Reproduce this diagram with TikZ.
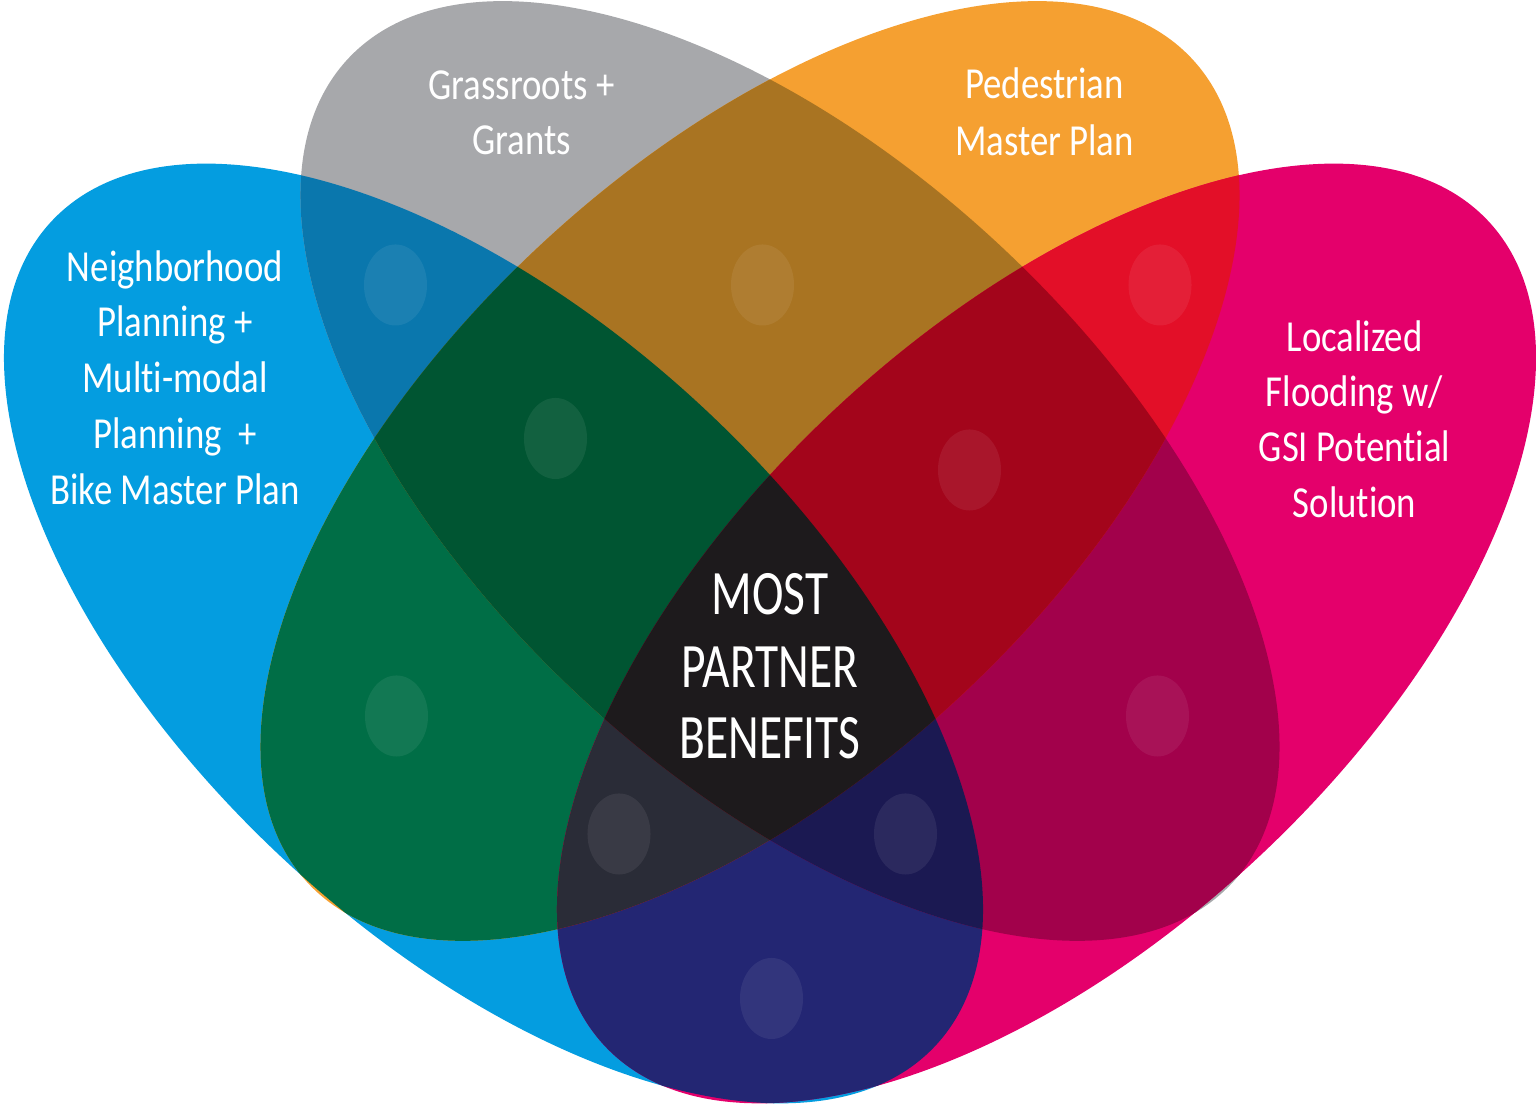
\documentclass[tikz,border=0pt]{standalone}
\usepackage{fontspec}
\newfontfamily\lblfont[FakeStretch=0.83, Ligatures={NoCommon}]{Carlito}
\newfontfamily\ctrfont[FakeStretch=0.75, Ligatures={NoCommon}]{Carlito}

% single sets
\definecolor{cBlue}{HTML}{049DE0}
\definecolor{cGray}{HTML}{A7A8AB}
\definecolor{cOrange}{HTML}{F5A031}
\definecolor{cPink}{HTML}{E4006B}
% pairs
\definecolor{cBG}{HTML}{0A77AD}
\definecolor{cGO}{HTML}{A97422}
\definecolor{cOP}{HTML}{E30F28}
\definecolor{cBO}{HTML}{006E46}
\definecolor{cGP}{HTML}{A2014B}
\definecolor{cBP}{HTML}{232673}
% triples
\definecolor{cBGO}{HTML}{005532}
\definecolor{cGOP}{HTML}{A3051B}
\definecolor{cBGP}{HTML}{1B1952}
\definecolor{cBOP}{HTML}{2A2C37}
% all four
\definecolor{cAll}{HTML}{1D1A1C}

% the four congruent ellipses
\newcommand\shB{(493.5,470.5) ellipse [x radius=6.04cm, y radius=3.08cm, rotate=-43]}
\newcommand\shG{(790,633) ellipse [x radius=6.04cm, y radius=3.08cm, rotate=-43]}
\newcommand\shO{(750,633) ellipse [x radius=6.04cm, y radius=3.08cm, rotate=43]}
\newcommand\shP{(1046.5,470.5) ellipse [x radius=6.04cm, y radius=3.08cm, rotate=43]}

\tikzset{
  lbl/.style={text=white, anchor=base, inner sep=0pt, font=\lblfont\fontsize{12.6}{15}\selectfont},
  ctr/.style={text=white, anchor=base, inner sep=0pt, font=\ctrfont\fontsize{18}{21}\selectfont},
  spot/.style={fill=white, fill opacity=0.07},
}

\begin{document}
\begin{tikzpicture}[x=0.01cm, y=0.01cm]
\useasboundingbox (0,0) rectangle (1536,1104);

% single regions
\fill[cBlue] \shB;
\fill[cGray] \shG;
\fill[cOrange] \shO;
\fill[cPink] \shP;

% pairwise overlaps
\begin{scope}
  \clip \shB;
  \fill[cBG] \shG;
  \fill[cBO] \shO;
  \fill[cBP] \shP;
\end{scope}
\begin{scope}
  \clip \shG;
  \fill[cGO] \shO;
  \fill[cGP] \shP;
\end{scope}
\begin{scope}
  \clip \shO;
  \fill[cOP] \shP;
\end{scope}

% triple overlaps
\begin{scope}
  \clip \shB; \clip \shG;
  \fill[cBGO] \shO;
  \fill[cBGP] \shP;
\end{scope}
\begin{scope}
  \clip \shB; \clip \shO;
  \fill[cBOP] \shP;
\end{scope}
\begin{scope}
  \clip \shG; \clip \shO;
  \fill[cGOP] \shP;
\end{scope}

% centre, all four
\begin{scope}
  \clip \shB; \clip \shG; \clip \shO;
  \fill[cAll] \shP;
\end{scope}

% light spots
\foreach \px/\py in {395.5/819, 762.5/819, 1160/819, 555.5/665.5, 969.5/634,
                     396.5/388, 1157.5/388, 619/270, 905.5/270, 771.5/105.5}
  \fill[spot] (\px,\py) ellipse [x radius=0.315cm, y radius=0.405cm];

% labels
\node[lbl] (nb1) at (175,822) {Neighborhood};
\node[lbl] (nb2) at (175,767) {Planning +};
\node[lbl] (nb3) at (175,711) {Multi-modal};
\node[lbl] (nb4) at (175,655) {Planning\ \ +};
\node[lbl] (nb5) at (175,599) {Bike Master Plan};

\node[lbl] (gr1) at (521.5,1004) {Grassroots +};
\node[lbl] (gr2) at (521.5,949) {Grants};

\node[lbl] (pd1) at (1044.5,1005) {Pedestrian};
\node[lbl] (pd2) at (1044.5,948) {Master Plan};

\node[lbl] (lf1) at (1354.5,752) {Localized};
\node[lbl] (lf2) at (1354.5,697) {Flooding w/};
\node[lbl] (lf3) at (1354.5,642) {GSI Potential};
\node[lbl] (lf4) at (1354.5,586) {Solution};

\node[ctr] (mp1) at (770,489) {MOST};
\node[ctr] (mp2) at (770,416) {PARTNER};
\node[ctr] (mp3) at (770,345) {BENEFITS};
\end{tikzpicture}
\end{document}
